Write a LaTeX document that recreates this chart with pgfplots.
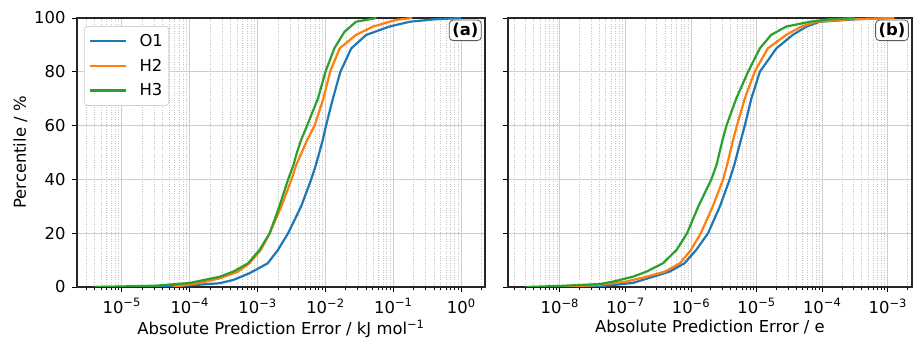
\documentclass[border=0pt]{standalone}
\usepackage{fontspec}
\setmainfont{DejaVu Sans}
\usepackage{pgfplots}
\pgfplotsset{compat=1.18}
\definecolor{tabblue}{HTML}{1F77B4}
\definecolor{taborange}{HTML}{FF7F0E}
\definecolor{tabgreen}{HTML}{2CA02C}
\definecolor{majgrid}{HTML}{D3CEC0}
\definecolor{mingrid}{HTML}{C4C4C4}
\pgfplotsset{
  every axis/.append style={
    scale only axis,
    xmode=log,
    log basis x=10,
    ymin=0, ymax=100,
    ytick={0,20,40,60,80,100},
    grid=both,
    major grid style={majgrid, line width=1bp},
    minor grid style={mingrid, dotted, line width=0.6bp},
    minor y tick num=0,
    tick align=outside,
    xtick pos=bottom,
    ytick pos=left,
    major tick length=5bp,
    minor tick length=3bp,
    tick style={black, line width=0.8bp},
    axis line style={black!85, line width=1.1bp},
    /pgf/number format/assume math mode=true,
    tick label style={font=\fontsize{16.4bp}{19bp}\selectfont},
    xticklabel style={yshift=-3bp},
    yticklabel style={xshift=-3bp},
    label style={font=\fontsize{16.4bp}{19bp}\selectfont},
  }
}
\begin{document}
\begin{tikzpicture}
\begin{axis}[
  at={(77bp,52bp)}, anchor=south west,
  width=408bp, height=269bp,
  xmin=2.19e-6, xmax=2.24,
  xtick={1e-5,1e-4,1e-3,1e-2,1e-1,1},
  xticklabels={10\textsuperscript{−5},10\textsuperscript{−4},10\textsuperscript{−3},10\textsuperscript{−2},10\textsuperscript{−1},10\textsuperscript{0}},
  minor xtick={3e-6,4e-6,5e-6,6e-6,7e-6,8e-6,9e-6,
    2e-5,3e-5,4e-5,5e-5,6e-5,7e-5,8e-5,9e-5,
    2e-4,3e-4,4e-4,5e-4,6e-4,7e-4,8e-4,9e-4,
    2e-3,3e-3,4e-3,5e-3,6e-3,7e-3,8e-3,9e-3,
    2e-2,3e-2,4e-2,5e-2,6e-2,7e-2,8e-2,9e-2,
    0.2,0.3,0.4,0.5,0.6,0.7,0.8,0.9,2},
  xlabel={Absolute Prediction Error / kJ mol\textsuperscript{−1}},
  ylabel={Percentile / \%},
  legend style={at={(0.017,0.97)}, anchor=north west, draw=gray!35, rounded corners=3bp,
    fill=white, font=\fontsize{16.4bp}{19bp}\selectfont,
    row sep=7bp, inner xsep=4bp, inner ysep=6bp, line width=0.8bp},
  legend cell align=left,
  legend image code/.code={\draw[#1] (0bp,0bp) -- (36bp,0bp); \path (-1bp,0bp) (46bp,0bp);},
]
\addplot[color=tabblue, line width=2.2bp, mark=none] coordinates {
(3.98e-6,0) (2.51e-5,0.1) (1e-4,0.6) (2.75e-4,1.4) (4.37e-4,2.6) (7.59e-4,5.1) (1.41e-3,8.8)
(2.0e-3,13.8) (2.82e-3,20) (4.37e-3,29.9) (6.17e-3,40) (7.24e-3,45.4) (8.13e-3,50) (9.12e-3,54.6)
(1.02e-2,60) (1.29e-2,70.1) (1.66e-2,80) (2.40e-2,88.7) (3.98e-2,93.7) (8.71e-2,96.8)
(0.174,98.6) (0.398,99.5) (1.0,100)
};
\addlegendentry{O1}
\addplot[color=taborange, line width=2.2bp, mark=none] coordinates {
(5.62e-5,0) (1.41e-4,1.5) (2.75e-4,3.2) (5.13e-4,5.7) (7.59e-4,8.8) (1.12e-3,13.8) (1.51e-3,20)
(2.24e-3,29.9) (3.16e-3,40) (3.72e-3,45.4) (4.47e-3,50) (5.37e-3,54.6) (6.92e-3,60) (9.33e-3,70.1)
(1.17e-2,80) (1.62e-2,88.7) (2.82e-2,93.7) (5.01e-2,96.8) (0.11,99.3) (0.19,100)
};
\addlegendentry{H2}
\addplot[color=tabgreen, line width=2.2bp, mark=none] coordinates {
(3.98e-6,0) (1e-5,0.2) (3.16e-5,0.5) (1e-4,1.5) (2.75e-4,3.8) (4.37e-4,5.7) (7.24e-4,8.8)
(1.07e-3,13.8) (1.51e-3,20) (2.09e-3,29.9) (2.82e-3,40) (3.39e-3,45.4) (3.80e-3,50) (4.37e-3,54.6)
(5.37e-3,60) (7.76e-3,70.1) (1e-2,80) (1.35e-2,88.7) (1.91e-2,94.9) (2.82e-2,98.6) (5.62e-2,100)
};
\addlegendentry{H3}
\node[draw=black!65, rounded corners=4bp, fill=white, anchor=north east, inner sep=3bp, line width=0.8bp,
  font=\fontsize{16.4bp}{19bp}\selectfont\bfseries] at (rel axis cs:0.992,0.994) {(a)};
\end{axis}
\begin{axis}[
  at={(508bp,52bp)}, anchor=south west,
  width=404bp, height=269bp,
  xmin=1.62e-9, xmax=2.34e-3,
  xtick={1e-8,1e-7,1e-6,1e-5,1e-4,1e-3},
  xticklabels={10\textsuperscript{−8},10\textsuperscript{−7},10\textsuperscript{−6},10\textsuperscript{−5},10\textsuperscript{−4},10\textsuperscript{−3}},
  minor xtick={2e-9,3e-9,4e-9,5e-9,6e-9,7e-9,8e-9,9e-9,
    2e-8,3e-8,4e-8,5e-8,6e-8,7e-8,8e-8,9e-8,
    2e-7,3e-7,4e-7,5e-7,6e-7,7e-7,8e-7,9e-7,
    2e-6,3e-6,4e-6,5e-6,6e-6,7e-6,8e-6,9e-6,
    2e-5,3e-5,4e-5,5e-5,6e-5,7e-5,8e-5,9e-5,
    2e-4,3e-4,4e-4,5e-4,6e-4,7e-4,8e-4,9e-4,2e-3},
  yticklabels={},
  xlabel={Absolute Prediction Error / e},
]
\addplot[color=tabblue, line width=2.2bp, mark=none] coordinates {
(2.51e-8,0) (5.75e-8,0.6) (1.29e-7,1.5) (2.63e-7,3.8) (4.68e-7,5.7) (7.94e-7,8.8) (1.20e-6,13.8)
(1.82e-6,20) (2.75e-6,29.9) (3.89e-6,40) (4.57e-6,45.4) (5.75e-6,54.6) (6.61e-6,60)
(8.32e-6,70.1) (1.12e-5,80) (2.0e-5,88.7) (3.55e-5,93.7) (5.75e-5,96.8) (9.12e-5,98.6)
(3.16e-4,99.5) (1e-3,100)
};
\addplot[color=taborange, line width=2.2bp, mark=none] coordinates {
(1.1e-8,0) (4.07e-8,0.8) (1.02e-7,2.0) (2.09e-7,3.8) (3.98e-7,5.7) (6.76e-7,8.8) (1e-6,13.8)
(1.41e-6,20) (2.14e-6,29.9) (3.09e-6,40) (3.55e-6,45.4) (4.37e-6,54.6) (5.01e-6,60)
(6.61e-6,70.1) (9.33e-6,80) (1.48e-5,88.7) (2.82e-5,93.7) (4.79e-5,96.8) (8.13e-5,98.6)
(2.51e-4,99.5) (1.26e-3,100)
};
\addplot[color=tabgreen, line width=2.2bp, mark=none] coordinates {
(3.02e-9,0) (1e-8,0.4) (4.07e-8,1.1) (6.46e-8,2.0) (1.29e-7,3.8) (2.09e-7,5.7) (3.72e-7,8.8)
(6.03e-7,13.8) (8.71e-7,20) (1.29e-6,29.9) (2.04e-6,40) (2.45e-6,45.4) (3.02e-6,54.6)
(3.47e-6,60) (4.90e-6,70.1) (7.41e-6,80) (1.12e-5,88.7) (1.66e-5,93.7) (2.82e-5,96.8)
(6.46e-5,98.6) (1.26e-4,99.5) (3.16e-4,100)
};
\node[draw=black!65, rounded corners=4bp, fill=white, anchor=north east, inner sep=3bp, line width=0.8bp,
  font=\fontsize{16.4bp}{19bp}\selectfont\bfseries] at (rel axis cs:0.992,0.994) {(b)};
\end{axis}
\pgfresetboundingbox
\path (0,0) rectangle (913bp,339bp);
\end{tikzpicture}
\end{document}
